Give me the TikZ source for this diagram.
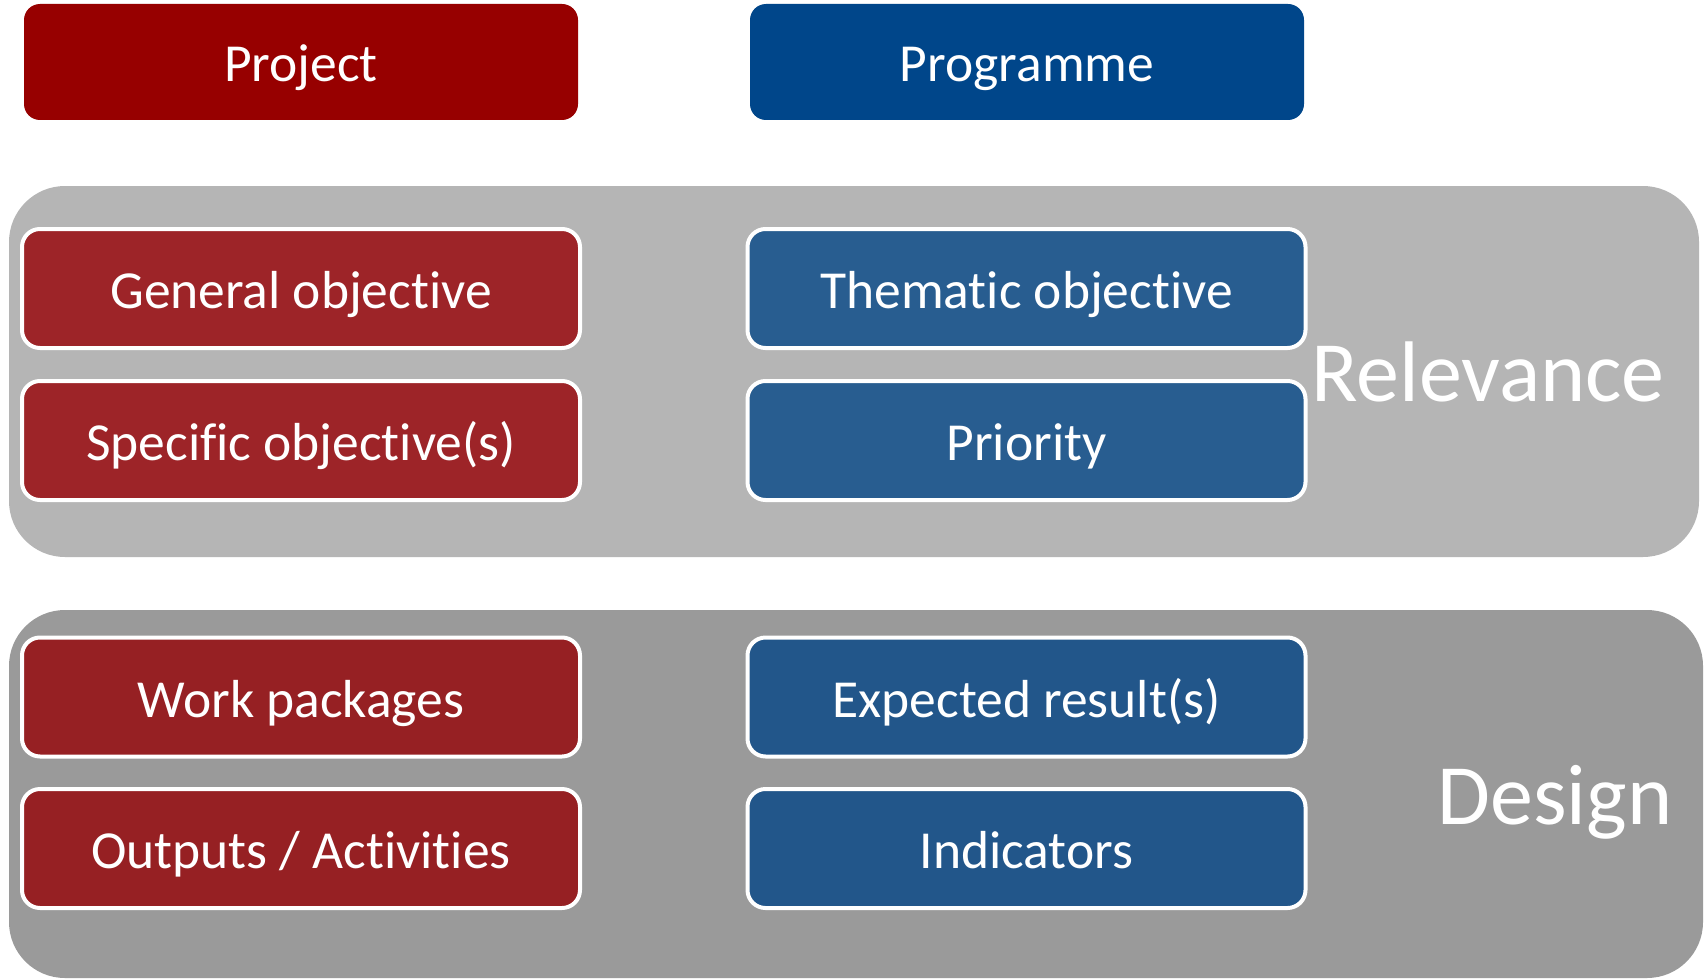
\documentclass[tikz,border=0pt]{standalone}
\usepackage{fontspec}
\setmainfont{Carlito}[Ligatures={NoCommon}]
\definecolor{hdrred}{HTML}{970000}
\definecolor{hdrblue}{HTML}{00468A}
\definecolor{redA}{HTML}{9D2428}
\definecolor{redB}{HTML}{962023}
\definecolor{blueA}{HTML}{285D90}
\definecolor{blueB}{HTML}{22568A}
\definecolor{grayA}{HTML}{B5B5B5}
\definecolor{grayB}{HTML}{9A9A9A}
\begin{document}
\begin{tikzpicture}[x=1pt,y=-1pt,
  lbl/.style={text=white,font=\fontsize{53.5}{62}\selectfont,text height=40pt,text depth=0pt,inner sep=0pt,align=center},
  header/.style={lbl,rounded corners=16pt,minimum width=554pt,minimum height=116pt},
  inbox/.style={lbl,draw=white,line width=4pt,rounded corners=18pt,minimum width=558pt,minimum height=119pt},
  band/.style={rounded corners=56pt},
  big/.style={text=white,font=\fontsize{86}{98}\selectfont,text height=55pt,text depth=0pt,inner sep=0pt}]
\useasboundingbox (0,0) rectangle (1704,979);
\fill[white] (0,0) rectangle (1704,979);
% bands
\fill[grayA,band] (9,186) rectangle (1699,557);
\fill[grayB,band] (9,610) rectangle (1703,978);
% headers
\node[header,fill=hdrred] (project) at (301,62) {Project};
\node[header,fill=hdrblue] (programme) at (1027,62) {Programme};
% relevance band
\node[inbox,fill=redA] (genobj) at (301,288.5) {General objective};
\node[inbox,fill=redA] (specobj) at (301,440.5) {Specific objective(s)};
\node[inbox,fill=blueA] (themobj) at (1026.5,288.5) {Thematic objective};
\node[inbox,fill=blueA] (priority) at (1026.5,440.5) {Priority};
\node[big] (relevance) at (1488,374) {Relevance};
% design band
\node[inbox,fill=redB] (workpk) at (301,697) {Work packages};
\node[inbox,fill=redB] (outputs) at (301,848.5) {Outputs / Activities};
\node[inbox,fill=blueB] (expres) at (1026.5,697) {Expected result(s)};
\node[inbox,fill=blueB] (indic) at (1026.5,848.5) {Indicators};
\node[big] (design) at (1555,797) {Design};
\end{tikzpicture}
\end{document}
